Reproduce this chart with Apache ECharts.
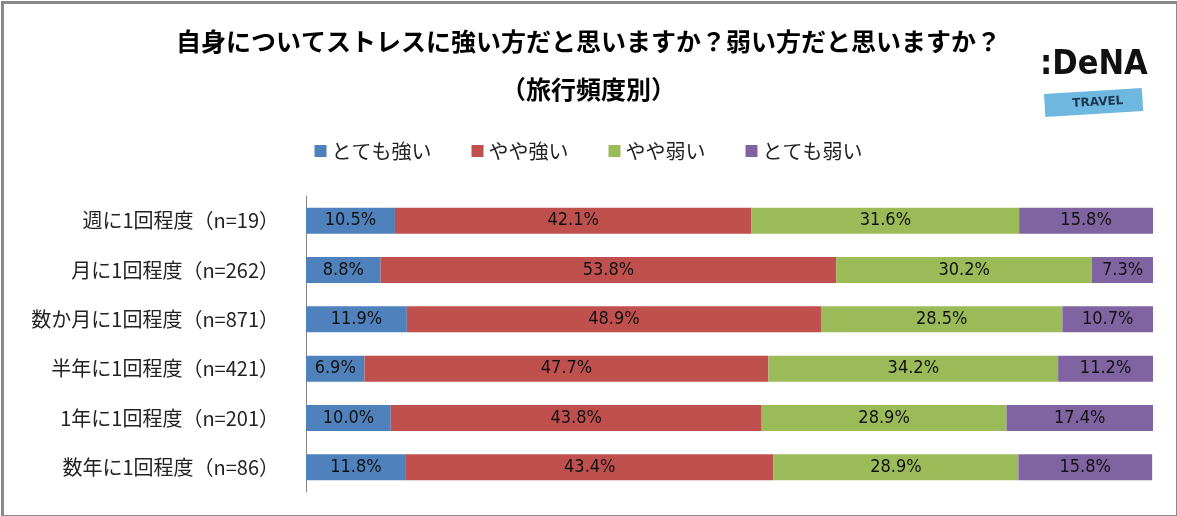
<!DOCTYPE html>
<html><head><meta charset="utf-8">
<script src="https://cdn.jsdelivr.net/npm/echarts@6/dist/echarts.min.js"></script>
<style>html,body{margin:0;padding:0;background:#fff}#c{width:1177px;height:516px}</style>
</head><body><div id="c"></div>
<script>
const titleText = '自身についてストレスに強い方だと思いますか？弱い方だと思いますか？';
const subtitleText = '（旅行頻度別）';
const categories = ['週に1回程度（n=19）','月に1回程度（n=262）','数か月に1回程度（n=871）','半年に1回程度（n=421）','1年に1回程度（n=201）','数年に1回程度（n=86）'];
const seriesNames = ['とても強い','やや強い','やや弱い','とても弱い'];
const veryStrong = [10.5, 8.8, 11.9, 6.9, 10.0, 11.8];
const ratherStrong = [42.1, 53.8, 48.9, 47.7, 43.8, 43.4];
const ratherWeak = [31.6, 30.2, 28.5, 34.2, 28.9, 28.9];
const veryWeak = [15.8, 7.3, 10.7, 11.2, 17.4, 15.8];
const colors = ['#4F81BD','#C0504D','#9BBB59','#8064A2'];
const seriesData = [veryStrong, ratherStrong, ratherWeak, veryWeak];

const chart = echarts.init(document.getElementById('c'));
const labelFont = '"Liberation Sans Narrow","DejaVu Sans Condensed","Liberation Sans",sans-serif';
chart.setOption({
  animation: false,
  title: [
    {text: titleText, left: 'center', top: 24, textStyle: {fontFamily: '"Noto Sans CJK JP"', fontWeight: 'bold', fontSize: 25, color: '#000'}},
    {text: subtitleText, left: 'center', top: 72, textStyle: {fontFamily: '"Noto Sans CJK JP"', fontWeight: 'bold', fontSize: 25, color: '#000'}}
  ],
  legend: {
    top: 136, left: 'center', itemWidth: 12, itemHeight: 12, itemGap: 40,
    icon: 'rect',
    textStyle: {fontFamily: '"Noto Sans CJK JP"', fontSize: 20, color: '#222'},
    data: seriesNames
  },
  grid: {left: 306, right: 24, top: 196, bottom: 24, containLabel: false},
  xAxis: {type: 'value', min: 0, max: 100, show: false},
  yAxis: {
    type: 'category', data: categories, inverse: true,
    axisLine: {show: true, lineStyle: {color: '#868686', width: 1}},
    axisTick: {show: false},
    axisLabel: {margin: 27, fontFamily: '"Noto Sans CJK JP"', fontSize: 20, color: '#222'}
  },
  series: seriesData.map((d, i) => ({
    name: seriesNames[i], type: 'bar', stack: 'total', data: d, barWidth: 26,
    clip: true,
    itemStyle: {color: colors[i]},
    label: {show: true, position: 'inside', formatter: p => p.value.toFixed(1) + '%', fontFamily: labelFont, fontSize: 18, color: '#111'}
  })),
  graphic: [
    {type: 'rect', left: 0, top: 0, shape: {width: 1175, height: 514}, style: {fill: 'none', stroke: '#8a8a8a', lineWidth: 3}, z: 100},
    {type: 'group', left: 1040, top: 48, children: [
      {type: 'text', x: 0, y: 0, style: {text: ':DeNA', font: 'bold 34px "DejaVu Sans Condensed", sans-serif', fill: '#111'}},
      {type: 'rect', x: 4, y: 46, rotation: 0.06, shape: {width: 98, height: 23}, style: {fill: '#6EB8E0'}},
      {type: 'text', x: 32, y: 50, rotation: 0.06, style: {text: 'TRAVEL', font: 'bold 12px "DejaVu Sans", sans-serif', fill: '#1d3550'}}
    ]}
  ]
});
</script></body></html>
